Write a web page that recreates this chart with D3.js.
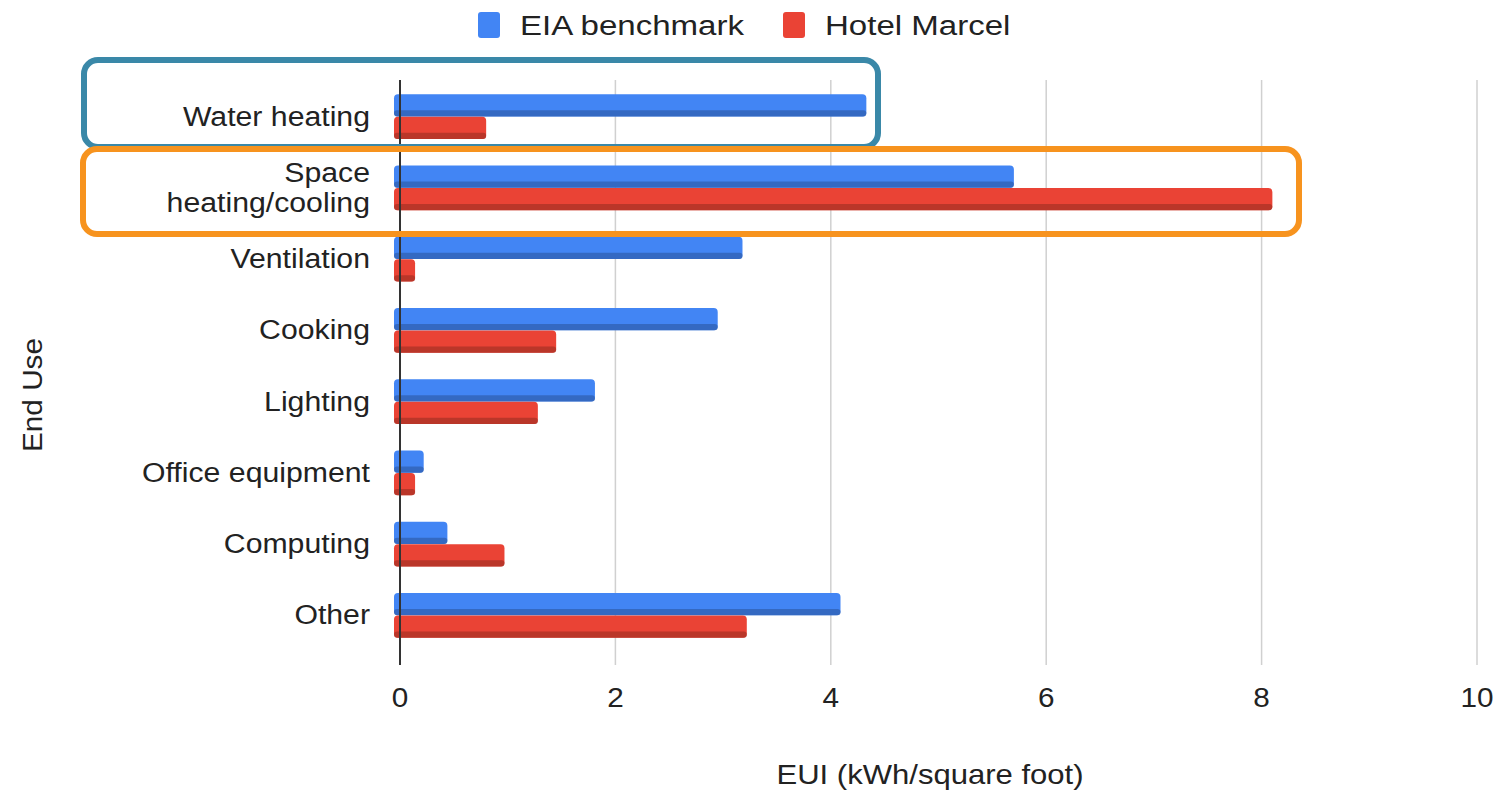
<!DOCTYPE html>
<html>
<head>
<meta charset="utf-8">
<script src="https://cdn.jsdelivr.net/npm/d3@7"></script>
<style>
  body { margin: 0; background: #fff; }
  text { font-family: "Liberation Sans", Arial, sans-serif; fill: #222; }
</style>
</head>
<body>
<svg id="chart" width="1504" height="793"></svg>
<script>
// data
const categories = ["Water heating", "Space\nheating/cooling", "Ventilation", "Cooking",
  "Lighting", "Office equipment", "Computing", "Other"];
const eiaBenchmark = [4.33, 5.7, 3.18, 2.95, 1.81, 0.22, 0.44, 4.09];
const hotelMarcel = [0.8, 8.1, 0.14, 1.45, 1.28, 0.14, 0.97, 3.22];
const seriesNames = ["EIA benchmark", "Hotel Marcel"];
const seriesColors = ["#4285f4", "#ea4335"];
const xTicks = [0, 2, 4, 6, 8, 10];

const svg = d3.select("#chart");

const x = d3.scaleLinear().domain([0, 10]).range([400, 1477]);
const y = d3.scaleBand().domain(categories).range([81, 651]).paddingInner(0.36).paddingOuter(0.18);
const ySub = d3.scaleBand().domain(seriesNames).range([0, y.bandwidth()]).padding(0.02);

// text helper: the source font is a bit wider than Liberation Sans, so stretch horizontally
function stretchText(sel, tx, ty, sx, rot) {
  sel.attr("transform", `translate(${tx},${ty})` + (rot ? ` rotate(${rot})` : "") + ` scale(${sx},1)`);
  return sel;
}

// gridlines
svg.append("g")
  .selectAll("line")
  .data(xTicks.filter(d => d > 0))
  .join("line")
    .attr("x1", d => x(d)).attr("x2", d => x(d))
    .attr("y1", 80).attr("y2", 665)
    .attr("stroke", "#d0d0d0")
    .attr("stroke-width", 1.5);

// bars
const rows = categories.map((c, i) => ({cat: c, vals: [eiaBenchmark[i], hotelMarcel[i]]}));
const groups = svg.append("g").selectAll("g")
  .data(rows)
  .join("g")
    .attr("transform", d => `translate(0,${y(d.cat)})`);

groups.each(function(row) {
  const g = d3.select(this);
  row.vals.forEach((v, j) => {
    const yy = ySub(seriesNames[j]);
    const h = ySub.bandwidth();
    const w = x(v) - x(0) + 6;
    g.append("rect")
      .attr("x", x(0) - 6).attr("y", yy)
      .attr("width", w).attr("height", h)
      .attr("rx", 4)
      .attr("fill", seriesColors[j]);
    // darker bottom edge to mimic the shaded look
    g.append("rect")
      .attr("x", x(0) - 6).attr("y", yy + h * 0.72)
      .attr("width", w).attr("height", h * 0.28)
      .attr("rx", 3)
      .attr("fill", d3.color(seriesColors[j]).darker(0.9))
      .attr("opacity", 0.75);
  });
});

// baseline
svg.append("line")
  .attr("x1", x(0)).attr("x2", x(0))
  .attr("y1", 80).attr("y2", 665)
  .attr("stroke", "#333").attr("stroke-width", 2);

// x tick labels
svg.append("g")
  .selectAll("text")
  .data(xTicks)
  .join("text")
    .attr("text-anchor", "middle")
    .style("font-size", "27px")
    .text(d => d)
    .each(function(d) { stretchText(d3.select(this), x(d), 707, 1.1); });

// category labels
svg.append("g")
  .selectAll("text")
  .data(categories)
  .join("text")
    .attr("text-anchor", "end")
    .style("font-size", "27px")
    .each(function(c) {
      const lines = c.split("\n");
      const cy = y(c) + y.bandwidth() / 2;
      const t = d3.select(this);
      stretchText(t, 370, cy + 9, 1.12);
      lines.forEach((ln, k) => {
        t.append("tspan")
          .attr("x", 0)
          .attr("y", (k - (lines.length - 1) / 2) * 30)
          .text(ln);
      });
    });

// axis titles
stretchText(svg.append("text"), 930, 784, 1.15)
  .attr("text-anchor", "middle")
  .style("font-size", "27px")
  .text("EUI (kWh/square foot)");

stretchText(svg.append("text"), 42, 395, 1.1, -90)
  .attr("text-anchor", "middle")
  .style("font-size", "27px")
  .text("End Use");

// legend
const legendX = [478, 783];
seriesNames.forEach((s, i) => {
  svg.append("rect")
    .attr("x", legendX[i]).attr("y", 12)
    .attr("width", 22).attr("height", 26)
    .attr("rx", 3)
    .attr("fill", seriesColors[i]);
  stretchText(svg.append("text"), legendX[i] + 42, 35, 1.18)
    .style("font-size", "28px")
    .text(s);
});

// highlight boxes
svg.append("rect")
  .attr("x", 84).attr("y", 60)
  .attr("width", 794).attr("height", 87)
  .attr("rx", 14)
  .attr("fill", "none")
  .attr("stroke", "#3a88a8").attr("stroke-width", 6);

svg.append("rect")
  .attr("x", 83).attr("y", 149)
  .attr("width", 1216).attr("height", 85)
  .attr("rx", 14)
  .attr("fill", "none")
  .attr("stroke", "#f7931e").attr("stroke-width", 6);
</script>
</body>
</html>
